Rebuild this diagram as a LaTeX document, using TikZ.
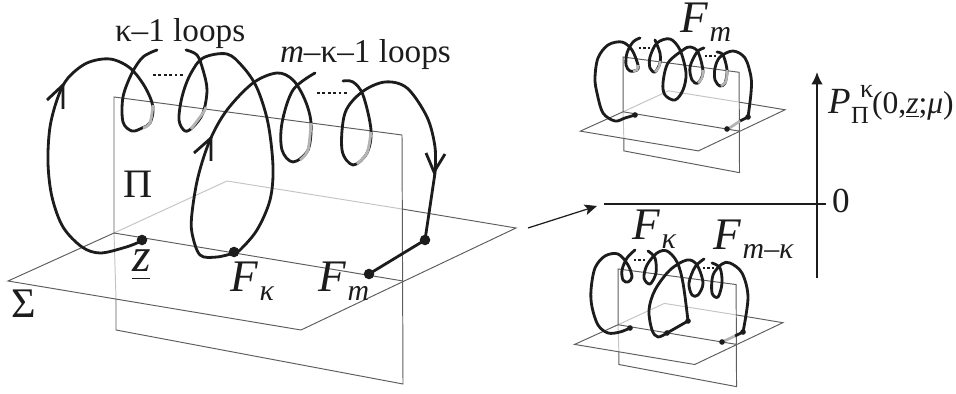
\documentclass[tikz,border=0pt]{standalone}
\usepackage{fontspec}
\setmainfont{Liberation Serif}
\usepackage{tikz}
\usetikzlibrary{arrows.meta}
\definecolor{inkline}{HTML}{1c1c1c}
\definecolor{planeline}{HTML}{5e5e5e}
\definecolor{hiddenline}{HTML}{c4c4c4}
\definecolor{fadeline}{HTML}{b4b4b4}
\newcommand{\fs}[1]{\fontsize{#1}{#1}\selectfont}
\newcommand{\subF}[1]{\textit{F}\kern1pt\raisebox{-0.18em}{\fs{17}\textit{#1}}}
% the two planes, in the coordinates of the big picture
\newcommand{\drawplanes}{
	\draw[hiddenplane] (114,233) -- (227,181) -- (402,209);
	\draw[hiddenplane] (114,233) -- (116,299);
	\draw[plane] (402,209) -- (516,228) -- (301,330) -- (8,281) -- (114,233);
	\draw[plane] (116,299) -- (116,330) -- (403,384) -- (402,135) -- (114,97) -- (114,233) -- (403,281);
}
\tikzset{
	plane/.style={planeline, line width=0.55pt, line join=miter},
	hiddenplane/.style={hiddenline, line width=0.55pt},
	curve/.style={inkline, line width=1.6pt, line cap=round, line join=round},
	fade/.style={fadeline, line width=1.6pt},
	lbl/.style={anchor=base west, inner sep=0pt, outer sep=0pt, text=inkline},
	dot/.style={circle, fill=inkline, inner sep=0pt, minimum size=#1},
	dotrow/.style={inkline, line width=1.3pt, dash pattern=on 1.5pt off 1.6pt},
	tinydots/.style={inkline, line width=1.6pt, dash pattern=on 1.4pt off 1.1pt},
}
\begin{document}
\begin{tikzpicture}[x=0.02cm, y=-0.02cm]
	\useasboundingbox (0,0) rectangle (956,394);

	% big picture
	\drawplanes
	\draw[curve] plot[smooth, tension=0.55] coordinates {(143,239) (137,243) (123,248) (100,253) (82,247) (63,227) (52,197) (48,163) (50,127) (58,97) (68,78) (87,63) (110,59) (130,68) (145,87) (153,107) (150,123) (142,128) (132,131) (123,122) (123,97) (132,73) (143,57) (157,50)};
	\draw[curve] plot[smooth, tension=0.55] coordinates {(186,50) (197,55) (203,70) (207,90) (203,113) (193,127) (185,131) (179,120) (182,97) (190,75) (203,58) (227,54) (243,67) (257,88) (268,123) (273,167) (270,200) (257,230) (240,250) (234,253)};
	\draw[curve] plot[smooth, tension=0.55] coordinates {(234,253) (217,257) (200,255) (192,233) (192,213) (198,177) (210,140) (227,110) (253,83) (277,73) (293,80) (305,100) (311,123) (308,150) (293,162) (282,150) (282,123) (293,90) (315,73)};
	\draw[curve] plot[smooth, tension=0.55] coordinates {(343,81) (353,82) (363,95) (371,130) (367,153) (353,165) (342,150) (345,113) (362,92) (385,82) (407,88) (427,117) (435,147) (435,173)};
	\draw[curve] (435,173) -- (425,240) -- (369,274);
	\foreach \a/\b/\c/\d/\e/\f in {153/105/150/123/143/128, 206/107/203/113/191/129, 311/123/308/150/300/160, 371/132/367/153/357/164} {
		\draw[fade] plot[smooth, tension=0.55] coordinates {(\a,\b) (\c,\d) (\e,\f)};
	}
	\draw[curve, line cap=butt, line join=miter] (47,100) -- (63,85) -- (63,109);
	\draw[curve, line cap=butt, line join=miter] (194,153) -- (211,138) -- (211,161);
	\draw[curve, line cap=butt, line join=miter] (426,153) -- (434,172) -- (445,154);
	\foreach \n/\x/\y in {z/142/240, fk/234/252, turn/425/240, fm/369/274} {
		\node[dot=6pt] (\n) at (\x,\y) {};
	}
	\draw[dotrow] (153,75) -- (183,75);
	\draw[dotrow] (317,93) -- (348,93);

	% upper small picture
	\begin{scope}[shift={(577.1,17.9)}, scale=0.403]
		\drawplanes
	\end{scope}
	\draw[curve] plot[smooth, tension=0.55] coordinates {(635,115) (625,118) (615,121) (603,113) (597,93) (595,78) (598,58) (608,45) (622,42) (632,50) (638,65) (637,70) (630,71) (626,65) (627,53) (633,42) (640,38)};
	\draw[curve] plot[smooth, tension=0.55] coordinates {(655,40) (660,53) (660,63) (655,72) (650,68) (650,57) (657,43) (670,39) (680,50) (686,73) (683,90) (675,100) (665,95) (663,83) (668,63) (683,50) (690,47) (698,52) (703,72) (698,83) (692,80) (690,67) (697,52) (704,48)};
	\draw[curve] plot[smooth, tension=0.55] coordinates {(717,52) (723,55) (727,70) (725,83) (720,86) (715,80) (715,68) (720,57) (733,51) (745,58) (751,77) (751,93) (748,117)};
	\draw[curve] (748,117) -- (740,121);
	\draw[fade] (740,121) -- (728,129);
	\foreach \a/\b/\c/\d/\e/\f in {638/65/637/70/633/71, 660/61/659/67/655/72, 703/70/702/78/698/83, 727/70/726/81/721/86} {
		\draw[fade, line width=1.4pt] plot[smooth, tension=0.55] coordinates {(\a,\b) (\c,\d) (\e,\f)};
	}
	\foreach \n/\x/\y in {topz/635/115, topturn/748/117, topfm/727/129} {
		\node[dot=3.2pt] (\n) at (\x,\y) {};
	}
	\draw[tinydots] (639,48) -- (651,48);
	\draw[tinydots] (705,56) -- (718,56);

	% lower small picture
	\begin{scope}[shift={(571.3,229.2)}, scale=0.41]
		\drawplanes
	\end{scope}
	\draw[curve] plot[smooth, tension=0.55] coordinates {(630,328) (620,332) (608,333) (598,325) (592,307) (591,290) (595,268) (605,256) (618,254) (628,265) (632,277) (628,282) (623,280) (622,270) (627,258) (635,250)};
	\draw[curve] plot[smooth, tension=0.55] coordinates {(648,251) (655,258) (656,273) (650,284) (644,278) (647,265) (657,253) (667,251) (677,262) (683,283) (688,321)};
	\draw[curve] (688,321) -- (667,333);
	\draw[curve] plot[smooth, tension=0.55] coordinates {(667,333) (658,337) (652,330) (649,310) (655,290) (670,270) (687,260) (697,265) (703,283) (698,295) (692,295) (689,283) (695,267) (704,259)};
	\draw[curve] plot[smooth, tension=0.55] coordinates {(712,263) (720,268) (722,283) (718,297) (712,293) (713,275) (722,264) (730,263) (742,273) (748,297) (743,332)};
	\draw[curve] (743,332) -- (735,336);
	\draw[fade] (735,336) -- (722,342);
	\foreach \n/\x/\y in {lowz/630/328, lowfk/667/333, lowbend/688/321, lowturn/743/332, lowfm/722/342} {
		\node[dot=3.2pt] (\n) at (\x,\y) {};
	}
	\draw[tinydots] (634,260) -- (646,260);
	\draw[tinydots] (703,268) -- (716,268);

	% axes and arrow
	\coordinate (axtop) at (817,72);
	\coordinate (axbot) at (817,278);
	\coordinate (axleft) at (604,204);
	\coordinate (axright) at (826,204);
	\coordinate (arrfrom) at (528,228);
	\coordinate (arrto) at (597,206);
	\draw[-{Latex[length=7pt, width=6.5pt]}, inkline, line width=1pt] (axbot) -- (axtop);
	\draw[inkline, line width=1pt] (axleft) -- (axright);
	\draw[-{Stealth[length=7pt, width=6pt, inset=1.5pt]}, inkline, line width=0.7pt] (arrfrom) -- (arrto);

	% labels
	\node[lbl, font=\fs{18.9}] (kloops) at (115,42) {κ–1 loops};
	\node[lbl, font=\fs{18.9}] (mloops) at (280,63) {\textit{m}–κ–1 loops};
	\node[lbl, font=\fs{23}] (piplane) at (123,198) {Π};
	\node[lbl, font=\fs{24}] (sigplane) at (11,318) {Σ};
	\node[lbl, font=\fs{27}] (zlbl) at (132,272) {\underline{\textit{z}\rule[-2.5pt]{0pt}{1pt}}};
	\node[lbl, font=\fs{25.7}] (fklbl) at (230,292) {\subF{κ}};
	\node[lbl, font=\fs{25.7}] (fmlbl) at (318,292) {\subF{m}};
	\node[lbl, font=\fs{25.7}] (topfmlbl) at (680,33) {\subF{m}};
	\node[lbl, font=\fs{25.7}] (lowfklbl) at (632,240) {\subF{κ}};
	\node[lbl, font=\fs{25.7}] (lowfmklbl) at (713,250) {\subF{m–κ}};
	\node[lbl, font=\fs{20}] (zerolbl) at (832,213) {0};
	\node[lbl, font=\fs{21}] (plbl) at (828,114) {\textit{P}};
	\node[lbl, font=\fs{14}] (pisub) at (851,124) {Π};
	\node[lbl, font=\fs{15}] (ksup) at (860,98) {κ};
	\node[lbl, font=\fs{18}] (pargs) at (872,114) {(0,\underline{\textit{z}};\textit{μ})};
\end{tikzpicture}
\end{document}
